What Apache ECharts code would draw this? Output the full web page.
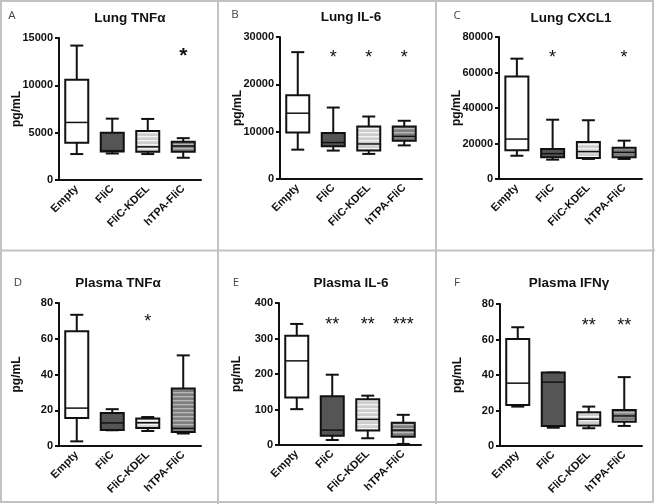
<!DOCTYPE html>
<html><head><meta charset="utf-8">
<script src="https://cdn.jsdelivr.net/npm/echarts@6/dist/echarts.min.js"></script>
<style>html,body{margin:0;padding:0;background:#fff}#c{width:655px;height:504px}</style>
</head><body><div id="c"></div>
<script>
const categories = ['Empty', 'FliC', 'FliC-KDEL', 'hTPA-FliC'];
// each box: [min, Q1, median, Q3, max]
const lungTNFa   = [[2740, 3930, 6080, 10600, 14200], [2800, 3000, 3100, 4990, 6480], [2740, 2980, 3500, 5180, 6450], [2350, 2980, 3600, 4040, 4420]];
const lungIL6    = [[6200, 9800, 13900, 17700, 26800], [6000, 6900, 7700, 9700, 15100], [5300, 6000, 7400, 11100, 13200], [7100, 8100, 9000, 11100, 12300]];
const lungCXCL1  = [[13100, 16200, 22500, 57700, 67800], [10900, 12200, 14300, 16900, 33400], [11300, 11800, 15400, 20800, 33100], [11300, 12200, 15000, 17600, 21600]];
const plasmaTNFa = [[2.6, 15.7, 21.2, 64.2, 73.4], [8.8, 8.9, 12.9, 18.4, 20.6], [8.4, 10.1, 13.0, 15.4, 16.2], [7.0, 7.9, 9.8, 32.2, 50.7]];
const plasmaIL6  = [[101, 134, 237, 308, 341], [14, 26, 42, 137, 198], [19, 41, 72, 129, 139], [3, 23, 42, 63, 85]];
const plasmaIFNg = [[22.2, 23.1, 35.4, 60.3, 66.9], [10.3, 11.3, 36.0, 41.4, 41.4], [10.0, 11.5, 15.1, 19.0, 22.2], [11.3, 13.7, 16.9, 20.3, 38.8]];

const yMax      = [15000, 30000, 80000, 80, 400, 80];
const yInterval = [5000, 10000, 20000, 20, 100, 20];

const titles  = ['Lung TNFα', 'Lung IL-6', 'Lung CXCL1', 'Plasma TNFα', 'Plasma IL-6', 'Plasma IFNγ'];
const letters = ['A', 'B', 'C', 'D', 'E', 'F'];

const sigA = ['', '', '', '*'];
const sigB = ['', '*', '*', '*'];
const sigC = ['', '*', '', '*'];
const sigD = ['', '', '*', ''];
const sigE = ['', '**', '**', '***'];
const sigF = ['', '', '**', '**'];
const sigY = [13100, 25500, 68200, 69.2, 339, 67.8];

const panels = [lungTNFa, lungIL6, lungCXCL1, plasmaTNFa, plasmaIL6, plasmaIFNg];
const sigs = [sigA, sigB, sigC, sigD, sigE, sigF];

// layout (styles only)
const grids = [
  {left: 59, top: 38, width: 142, height: 142},
  {left: 280, top: 37, width: 142, height: 142},
  {left: 499, top: 37, width: 143, height: 142},
  {left: 59, top: 303, width: 142, height: 143},
  {left: 279, top: 303, width: 142, height: 142},
  {left: 500, top: 304, width: 142, height: 142}
];
const titlePos = [[130, 18], [351, 17], [571, 18], [118, 283], [351, 283], [569, 283]];
const letterPos = [[12, 16], [235, 15], [457, 16], [18, 283], [236, 283], [457, 283]];

const FONT = '"Liberation Sans", Arial, sans-serif';
const INK = '#111';

function stripes(bg, fg, period) {
  const c = document.createElement('canvas');
  c.width = 8; c.height = period;
  const g = c.getContext('2d');
  g.fillStyle = bg; g.fillRect(0, 0, 8, period);
  g.fillStyle = fg; g.fillRect(0, 0, 8, 1.3);
  return {image: c, repeat: 'repeat'};
}
const fills = ['#ffffff', '#555555', stripes('#cdcdcd', '#f4f4f4', 4), stripes('#7e7e7e', '#b9b9b9', 4)];

function renderBox(params, api) {
  const x = api.value(0);
  const pMin = api.coord([x, api.value(1)]);
  const pQ1 = api.coord([x, api.value(2)]);
  const pMed = api.coord([x, api.value(3)]);
  const pQ3 = api.coord([x, api.value(4)]);
  const pMax = api.coord([x, api.value(5)]);
  const cx = pMin[0];
  const bw = 23, cw = 13;
  const ls = {stroke: INK, lineWidth: 2};
  return {type: 'group', children: [
    {type: 'line', shape: {x1: cx, y1: pQ3[1], x2: cx, y2: pMax[1]}, style: ls},
    {type: 'line', shape: {x1: cx - cw / 2, y1: pMax[1], x2: cx + cw / 2, y2: pMax[1]}, style: ls},
    {type: 'line', shape: {x1: cx, y1: pQ1[1], x2: cx, y2: pMin[1]}, style: ls},
    {type: 'line', shape: {x1: cx - cw / 2, y1: pMin[1], x2: cx + cw / 2, y2: pMin[1]}, style: ls},
    {type: 'rect', shape: {x: cx - bw / 2, y: pQ3[1], width: bw, height: pQ1[1] - pQ3[1]},
      style: {fill: fills[x], stroke: INK, lineWidth: 2}},
    {type: 'line', shape: {x1: cx - bw / 2, y1: pMed[1], x2: cx + bw / 2, y2: pMed[1]}, style: {stroke: INK, lineWidth: 1.5}}
  ]};
}

const option = {
  animation: false,
  backgroundColor: '#fff',
  grid: grids.map(g => Object.assign({containLabel: false}, g)),
  xAxis: [], yAxis: [], series: [],
  graphic: []
};

panels.forEach((data, i) => {
  option.xAxis.push({
    gridIndex: i, type: 'category', data: categories, boundaryGap: true,
    axisLine: {lineStyle: {color: INK, width: 2}},
    axisTick: {alignWithLabel: true, length: 4, lineStyle: {color: INK, width: 2}},
    axisLabel: {rotate: 45, interval: 0, fontWeight: 'bold', fontSize: 11, color: INK, margin: 7, fontFamily: FONT},
    splitLine: {show: false}
  });
  option.yAxis.push({
    gridIndex: i, type: 'value', min: 0, max: yMax[i], interval: yInterval[i],
    name: 'pg/mL', nameLocation: 'middle', nameGap: 36, nameMoveOverlap: false,
    nameTextStyle: {fontWeight: 'bold', fontSize: 12, color: INK, fontFamily: FONT},
    axisLine: {show: true, lineStyle: {color: INK, width: 2}},
    axisTick: {show: true, length: 4, lineStyle: {color: INK, width: 2}},
    axisLabel: {fontWeight: 'bold', fontSize: 11, color: INK, margin: 6, fontFamily: FONT,
      formatter: v => String(v)},
    splitLine: {show: false}
  });
  option.series.push({
    type: 'custom', xAxisIndex: i, yAxisIndex: i,
    renderItem: renderBox,
    encode: {x: 0, y: [1, 2, 3, 4, 5]},
    data: data.map((d, k) => [k].concat(d))
  });
  const sig = sigs[i];
  const big = i === 0;
  option.series.push({
    type: 'custom', xAxisIndex: i, yAxisIndex: i,
    renderItem: function (params, api) {
      const k = api.value(0);
      const p = api.coord([k, api.value(1)]);
      return {type: 'text', x: p[0], y: p[1], style: {
        text: sig[k], align: 'center', verticalAlign: 'middle',
        fontSize: big ? 21 : 18, fontWeight: big ? 'bold' : 'normal', fontFamily: FONT, fill: INK
      }};
    },
    encode: {x: 0, y: 1},
    data: sig.map((s, k) => [k, sigY[i]]).filter((d, k) => sig[k] !== '')
  });
  option.graphic.push({
    type: 'text', x: titlePos[i][0], y: titlePos[i][1],
    style: {text: titles[i], align: 'center', verticalAlign: 'middle', fontSize: 13.5, fontWeight: 'bold', fontFamily: FONT, fill: INK}
  });
  option.graphic.push({
    type: 'text', x: letterPos[i][0], y: letterPos[i][1],
    style: {text: letters[i], align: 'center', verticalAlign: 'middle', fontSize: 11.5, fontFamily: '"Open Sans", sans-serif', fill: '#444'}
  });
});

// panel frame lines
const frameStyle = {stroke: '#c2c2c2', lineWidth: 2, fill: null};
option.graphic.push({type: 'rect', shape: {x: 1, y: 1, width: 652, height: 501}, style: frameStyle, silent: true});
option.graphic.push({type: 'line', shape: {x1: 218, y1: 0, x2: 218, y2: 504}, style: frameStyle, silent: true});
option.graphic.push({type: 'line', shape: {x1: 436, y1: 0, x2: 436, y2: 504}, style: frameStyle, silent: true});
option.graphic.push({type: 'line', shape: {x1: 0, y1: 250.5, x2: 655, y2: 250.5}, style: frameStyle, silent: true});

const chart = echarts.init(document.getElementById('c'), null, {renderer: 'canvas'});
chart.setOption(option);
</script>
</body></html>
